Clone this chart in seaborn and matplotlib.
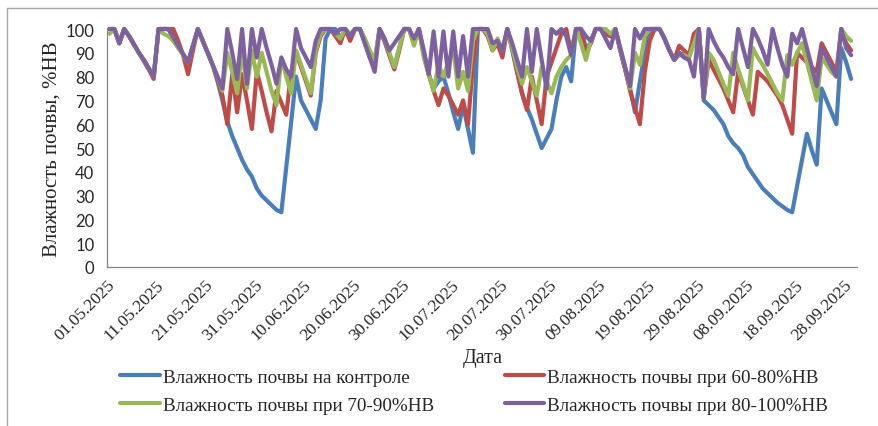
import numpy as np
import pandas as pd
import matplotlib
matplotlib.use("Agg")
import matplotlib.pyplot as plt
from matplotlib.lines import Line2D
import seaborn as sns

# --- Данные: влажность почвы по дням, 01.05.2025 - 29.09.2025 ---
tick_labels = ['01.05.2025', '11.05.2025', '21.05.2025', '31.05.2025', '10.06.2025',
               '20.06.2025', '30.06.2025', '10.07.2025', '20.07.2025', '30.07.2025',
               '09.08.2025', '19.08.2025', '29.08.2025', '08.09.2025', '18.09.2025',
               '28.09.2025']

series_names = ['Влажность почвы на контроле',
                'Влажность почвы при 60-80%НВ',
                'Влажность почвы при 70-90%НВ',
                'Влажность почвы при 80-100%НВ']

control = [100, 100, 94, 100, 97, 93.5, 90, 87, 83.5, 80,
           100, 100, 100, 96.5, 93, 89.5, 86, 93, 100, 95,
           90, 85, 78, 70, 61, 55, 50, 45, 41, 38,
           33, 30, 28, 26, 24, 23, 42, 61, 80, 70,
           66, 62, 58, 70, 96, 100, 100, 96, 100, 97,
           100, 100, 94, 88, 85, 100, 95, 89, 84, 92,
           100, 100, 95, 100, 89, 81, 75, 78, 80, 73,
           65, 58, 68, 58, 48, 100, 100, 98, 92, 95,
           90, 100, 91, 82, 73, 67, 62, 56, 50, 54,
           58, 70, 80, 84, 78, 100, 100, 92, 94, 100,
           100, 98, 97, 100, 91, 83, 75, 65, 78, 90,
           100, 100, 100, 96, 91, 87, 90, 89, 88, 95,
           100, 70, 68, 66, 63, 60, 55, 52, 50, 47,
           42, 39, 36, 33, 31, 29, 27, 25.5, 24, 23,
           34, 45, 56, 49, 43, 75, 70, 65, 60, 92,
           86, 79]

hv_60_80 = [100, 100, 94, 100, 97, 93.5, 90, 86.5, 83, 79,
            100, 100, 100, 100, 95, 89, 81, 91, 100, 95,
            90, 85, 79, 72, 60, 81, 65, 81, 70, 58,
            82, 74, 65, 57, 74, 69, 64, 82, 90, 84,
            78, 72, 90, 97, 100, 100, 97, 94, 100, 95,
            100, 100, 95, 90, 86, 100, 95, 89, 83, 91,
            100, 100, 94, 100, 90, 81, 74, 68, 75, 72,
            68, 64, 70, 60, 85, 100, 100, 97, 91, 94,
            88, 100, 92, 82, 73, 66, 80, 70, 60, 80,
            86, 92, 98, 100, 90, 100, 100, 90, 94, 100,
            100, 98, 97, 100, 91, 83, 74, 67, 60, 82,
            95, 100, 100, 96, 91, 87, 93, 91, 89, 98,
            100, 71, 87, 83, 79, 75, 70, 65, 82, 76,
            70, 64, 82, 80, 78, 75, 72, 68, 62, 56,
            90, 88, 86, 84, 82, 94, 90, 86, 82, 100,
            94, 91]

hv_70_90 = [98, 100, 95, 100, 97, 93.5, 90, 87, 83.5, 80,
            100, 98, 97, 95, 92, 89, 86, 93, 100, 95,
            90, 85, 80, 74, 90, 82, 73, 91, 75, 91,
            80, 90, 82, 74, 68, 88, 80, 73, 91, 85,
            79, 73, 91, 98, 100, 100, 98, 96, 100, 98,
            100, 100, 96, 91, 87, 100, 96, 90, 84, 92,
            100, 100, 93, 100, 88, 81, 74, 85, 80, 86,
            92, 75, 82, 74, 95, 100, 100, 98, 91, 96,
            91, 100, 92, 84, 77, 84, 78, 72, 84, 78,
            73, 80, 84, 87, 89, 100, 94, 87, 95, 100,
            100, 100, 98, 100, 92, 84, 75, 90, 85, 97,
            100, 100, 100, 96, 91, 87, 89, 89, 88, 94,
            100, 71, 90, 87, 82, 77, 72, 90, 83, 77,
            70, 92, 88, 85, 81, 77, 73, 70, 89, 85,
            90, 94, 86, 78, 70, 88, 85, 82, 80, 100,
            97, 95]

hv_80_100 = [100, 100, 94, 100, 97, 93.5, 90, 87, 83.5, 80,
             100, 100, 100, 96.5, 93, 89.5, 86, 93, 100, 95,
             90, 85, 80, 75, 100, 90, 79, 100, 77, 100,
             88, 100, 92, 85, 77, 88, 83, 80, 100, 92,
             88, 84, 95, 100, 100, 100, 98, 100, 100, 97,
             100, 100, 94, 88, 82, 100, 96, 91, 94, 97,
             100, 100, 96, 100, 91, 81, 99, 80, 99, 80,
             99, 80, 97, 80, 100, 100, 100, 100, 94, 95,
             91, 100, 94, 87, 80, 100, 82, 100, 87, 75,
             100, 98, 100, 97, 89, 100, 100, 97, 95, 100,
             100, 96, 92, 100, 92, 84, 76, 100, 96, 100,
             100, 100, 100, 96, 91, 87, 90, 88, 87, 80,
             100, 71, 100, 95, 91, 88, 84, 81, 100, 92,
             84, 100, 96, 91, 85, 100, 92, 85, 80, 98,
             94, 100, 92, 84, 76, 92, 88, 84, 80, 100,
             92, 89]

colors = ['#4A7EBB', '#BE4B48', '#98B954', '#7D60A0']

# длинный формат для seaborn; точка дня стоит в середине интервала
n_days = len(control)
day_pos = np.arange(n_days) + 0.5
frames = []
for name, vals in zip(series_names, [control, hv_60_80, hv_70_90, hv_80_100]):
    frames.append(pd.DataFrame({'day': day_pos, 'value': vals, 'series': name}))
df = pd.concat(frames, ignore_index=True)

sns.set_style("white")
SERIF = 'Liberation Serif'
plt.rcParams['font.family'] = [SERIF, 'DejaVu Serif']

fig = plt.figure(figsize=(8.79, 4.27), dpi=100)
ax = fig.add_axes([107 / 879, 1 - 268 / 427, (857 - 107) / 879, (268 - 30) / 427])

sns.lineplot(data=df, x='day', y='value', hue='series', hue_order=series_names,
             palette=dict(zip(series_names, colors)), linewidth=3.0,
             legend=False, ax=ax)
for line in ax.lines:
    line.set_clip_on(False)
    line.set_solid_joinstyle('round')

ax.set_xlim(0, 152.7)
ax.set_ylim(0, 100)
ax.set_xlabel('')
ax.set_ylabel('')

# оси
for side in ['top', 'right']:
    ax.spines[side].set_visible(False)
for side in ['left', 'bottom']:
    ax.spines[side].set_color('#868686')
    ax.spines[side].set_linewidth(0.9)

ax.set_yticks(range(0, 101, 10))
ax.set_yticklabels([str(v) for v in range(0, 101, 10)], fontfamily='Lato', fontsize=12)
ax.tick_params(axis='y', direction='out', length=5, width=0.9, color='#868686', pad=4)

ax.set_xticks(np.arange(0, 151, 10))
ax.set_xticklabels(tick_labels, rotation=45, ha='right', va='top',
                   rotation_mode='anchor', fontsize=12.5, fontfamily=SERIF)
ax.tick_params(axis='x', direction='inout', length=6, width=0.9, color='#868686', pad=4)

fig.text(52 / 879, 1 - 149 / 427, 'Влажность почвы, %НВ', rotation=90,
         ha='center', va='center', fontsize=15, fontfamily=SERIF)
fig.text(483 / 879, 1 - 358 / 427, 'Дата', ha='center', va='center', fontsize=14.5,
         fontfamily=SERIF)

# легенда: по строкам, как в исходнике
order = [0, 2, 1, 3]
handles = [Line2D([0], [0], color=colors[i], lw=3) for i in order]
labels = [series_names[i] for i in order]
fig.legend(handles, labels, ncol=2, loc='center',
           bbox_to_anchor=(474 / 879, 1 - 392 / 427), frameon=False,
           prop={'family': SERIF, 'size': 13.8}, handlelength=2.07, handletextpad=0.15,
           columnspacing=3.7, labelspacing=0.55)

# рамка области диаграммы
fig.add_artist(Line2D([7.5 / 879, 7.5 / 879], [0, 1 - 9 / 427],
                      transform=fig.transFigure, color='#a6a6a6', lw=1))
fig.add_artist(Line2D([7.5 / 879, 1], [1 - 9 / 427, 1 - 9 / 427],
                      transform=fig.transFigure, color='#a6a6a6', lw=1))

fig.savefig('out.png', dpi=100)
plt.close()
